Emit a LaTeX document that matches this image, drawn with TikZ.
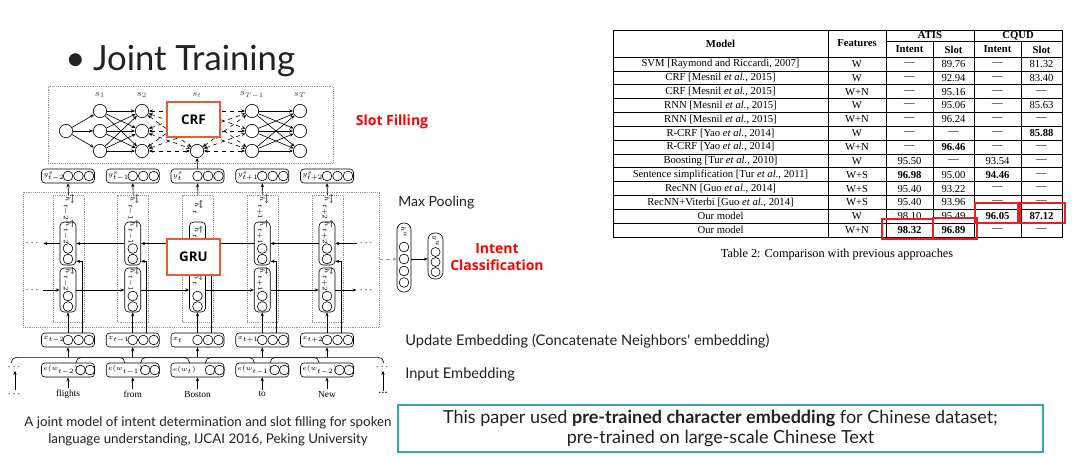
\documentclass[tikz,border=0pt]{standalone}
\usepackage{amsmath}
\usepackage{fontspec}
\setmainfont{Liberation Serif}
\newfontfamily\slidefont{Lato}
\newfontfamily\labelfont{Open Sans}
\usetikzlibrary{arrows.meta, positioning, calc}
\DeclareMathSizes{4.5}{4.5}{3.3}{2.8}
\DeclareMathSizes{7.5}{7.5}{5.5}{4.5}
\definecolor{tDark}{RGB}{34, 34, 34}
\definecolor{bModule}{RGB}{228, 92, 58}
\definecolor{tRed}{RGB}{255, 0, 0}
\definecolor{bHigh}{RGB}{235, 30, 35}
\definecolor{bNote}{RGB}{47, 170, 173}
\definecolor{lGrid}{RGB}{150, 150, 150}
\newcommand{\nd}{\textemdash}

\begin{document}
\begin{tikzpicture}[
    x=0.75pt, y=-0.75pt,
    >={Stealth[length=3pt, width=2.4pt]},
    line width=0.45pt,
    neuron/.style={circle, draw, inner sep=0pt, minimum size=10pt, fill=white},
    unit/.style={circle, draw, inner sep=0pt, minimum size=7.3pt},
    vec/.style={draw, rounded corners=2.5pt, minimum width=39.75pt, minimum height=10.5pt, inner sep=0pt},
    cell/.style={draw, rounded corners=3pt, minimum width=12pt, inner sep=0pt},
    dashbox/.style={draw=lGrid, densely dotted, line width=0.4pt, inner sep=0pt},
    module/.style={draw=bModule, line width=1.2pt, fill=white, minimum width=39.75pt,
        font=\labelfont\bfseries\fontsize{10}{12}\selectfont},
    lbl/.style={font=\fontsize{4.5}{5}\selectfont, inner sep=0pt},
    redlbl/.style={text=tRed, align=center, font=\labelfont\bfseries\fontsize{10.5}{12.75}\selectfont},
    slidetxt/.style={anchor=west, inner sep=0pt, text=tDark, font=\slidefont\fontsize{11}{13}\selectfont},
    tline/.style={line width=0.5pt},
    tcell/.style={inner sep=0pt, font=\fontsize{8}{9}\selectfont},
    thead/.style={tcell, font=\fontsize{8}{9}\selectfont\bfseries},
    hl/.style={draw=bHigh, line width=1pt}
]
\useasboundingbox[fill=white] (0,0) rectangle (1080,455);

\node[anchor=base west, inner sep=0pt, text=tDark, font=\slidefont\fontsize{26}{30}\selectfont] (title) at (65,70) {\textbullet\hspace{0.22em}Joint Training};

% CRF layer
\node[dashbox, minimum width=213.75pt, minimum height=57.75pt] (crfframe) at (190.5,124.5) {};
\node[neuron] (c0) at (66,131) {};
\foreach \l/\x/\s in {1/100/s_1, 2/142/s_2, 3/197/s_t, 4/252/s_{T-1}, 5/300/s_T}{
    \foreach \j/\y in {1/111, 2/131, 3/151}
        \node[neuron] (c\l\j) at (\x,\y) {};
    \node[lbl, text=tDark!85, font=\fontsize{7.5}{8}\selectfont] (sl\l) at (\x,95) {$\s$};
}
\foreach \j in {1,2,3}
    \draw[->] (c0) -- (c1\j);
\foreach \i in {1,2,3}
    \foreach \j in {1,2,3}{
        \draw[->] (c1\i) -- (c2\j);
        \draw[<->, dashed] (c2\i) -- (c3\j);
        \draw[<->, dashed] (c3\i) -- (c4\j);
        \draw[->] (c4\i) -- (c5\j);
    }
\node[module, minimum height=26.25pt] (crf) at (193.5,119.5) {CRF};
\node[redlbl] (slot) at (392,122) {Slot Filling};

% BiGRU layer
\node[dashbox, minimum width=267pt, minimum height=101.25pt] (bigru) at (201,259.5) {};
\foreach \k/\s in {1/t-2, 2/t-1, 3/t, 4/t+1, 5/t+2}{
    \pgfmathsetmacro\cx{68+64.75*(\k-1)}
    \node[dashbox, minimum width=23.25pt, minimum height=95.25pt] (col\k) at (\cx+0.5,258.5) {};
    \node[lbl, rotate=-90] (hc\k) at (\cx,207) {$\overleftrightarrow{h}_{\s}$};
    \node[cell, minimum height=32.25pt] (bw\k) at (\cx,243.5) {};
    \node[lbl, rotate=-90] (bwl\k) at (\cx,232) {$\overleftarrow{h}_{\s}$};
    \node[unit] (bw\k a) at (\cx,248.5) {};
    \node[unit] (bw\k b) at (\cx,259) {};
    \node[cell, minimum height=33pt] (fw\k) at (\cx,290) {};
    \node[lbl, rotate=-90] (fwl\k) at (\cx,279) {$\overrightarrow{h}_{\s}$};
    \node[unit] (fw\k a) at (\cx,296) {};
    \node[unit] (fw\k b) at (\cx,306.5) {};
    % output vectors
    \node[vec] (yb\k) at (\cx,176) {};
    \node[lbl, anchor=west] (ybl\k) at (\cx-25,176) {$y^s_{\s}$};
    \foreach \d in {1,2,3}
        \node[unit] (yb\k-\d) at (\cx-10.5+10.5*\d,176) {};
    % updated embeddings
    \node[vec] (xb\k) at (\cx,340) {};
    \node[lbl, anchor=west] (xbl\k) at (\cx-25,340) {$x_{\s}$};
    \foreach \d in {1,2,3}
        \node[unit] (xb\k-\d) at (\cx-10.5+10.5*\d,340) {};
    \coordinate (et\k) at (\cx,363);
}
\foreach \k/\s in {1/t-2, 2/t-1, 3/t, 4/t-1, 5/t-2}{
    \pgfmathsetmacro\cx{68+64.75*(\k-1)}
    \node[vec] (eb\k) at (\cx,370) {};
    \node[lbl, anchor=west] (ebl\k) at (\cx-25,370) {$e(w_{\s})$};
    \foreach \d in {1,2}
        \node[unit] (eb\k-\d) at (\cx+3+9.5*\d,370) {};
}
\foreach \k/\w in {1/flights, 2/from, 3/Boston, 4/to, 5/New}{
    \pgfmathsetmacro\cx{68+64.75*(\k-1)}
    \node[inner sep=1pt, font=\fontsize{7}{8}\selectfont] (w\k) at (\cx,394) {\w};
}

\foreach \k in {1,...,5}{
    \draw[->] (col\k.north) -- (yb\k.south);
    \draw[->] (xb\k.north) -- (fw\k.south);
    \draw[->] ($(xb\k.north)+(14,0)$) |- ($(bw\k.south east)+(0,-4)$);
    \draw[->] (w\k.north) -- (eb\k.south);
    \draw[->] ($(xb\k.south)+(0,10)$) -- (xb\k.south);
}
\foreach \k/\j in {1/2, 2/3, 3/4, 4/5}{
    \draw[->] (bw\j.west) -- (bw\k.east);
    \draw[->] (fw\k.east) -- (fw\j.west);
}
\node[module, minimum height=27pt] (gru) at (193.5,257) {GRU};
\draw[->] (yb3.north) -- (c33.south);

\node[inner sep=2pt, font=\fontsize{7}{8}\selectfont] (bwL) at (33,243.5) {$\cdots$};
\node[inner sep=2pt, font=\fontsize{7}{8}\selectfont] (fwL) at (33,290) {$\cdots$};
\node[inner sep=2pt, font=\fontsize{7}{8}\selectfont] (bwR) at (367,243.5) {$\cdots$};
\node[inner sep=2pt, font=\fontsize{7}{8}\selectfont] (fwR) at (367,290) {$\cdots$};
\draw[->] (bw1.west) -- (bwL.east);
\draw[->] (fwL.east) -- (fw1.west);
\draw[->] (bwR.west) -- (bw5.east);
\draw[->] (fw5.east) -- (fwR.west);

% neighbour concatenation
\coordinate (et0) at (3.25,363);
\coordinate (et6) at (391.75,363);
\foreach \k [evaluate=\k as \km using int(\k-1), evaluate=\k as \kp using int(\k+1)] in {1,...,5}
    \draw[rounded corners=4pt] ($(et\km)+(8,0)$) |- ($(xb\k.south)+(0,10)$) -| ($(et\kp)+(-8,0)$);
\node[inner sep=1pt, font=\fontsize{7}{8}\selectfont] (eL) at (15,367) {$\cdots$};
\node[inner sep=1pt, font=\fontsize{7}{8}\selectfont] (wL) at (15,394) {$\cdots$};
\node[inner sep=1pt, font=\fontsize{7}{8}\selectfont] (eR) at (383,367) {$\cdots$};
\node[inner sep=1pt, font=\fontsize{7}{8}\selectfont\bfseries] (wR) at (383,393) {\dots};
\draw[->] (wL.north) -- (eL.south);
\draw[->] (wR.north) -- (eR.south);

% intent branch
\node[slidetxt, font=\slidefont\fontsize{10.5}{12}\selectfont] (maxp) at (398,203) {Max Pooling};
\node[cell, minimum width=10.5pt, minimum height=51.75pt, rounded corners=5pt] (hu) at (404,257.5) {};
\node[lbl, rotate=-90] (hul) at (404,232) {$h^u$};
\foreach \j/\y in {1/247, 2/259, 3/271, 4/282.5}
    \node[unit] (hu\j) at (404,\y) {};
\node[cell, minimum width=11.25pt, minimum height=34.5pt, rounded corners=5pt] (yu) at (435.5,256) {};
\node[lbl, rotate=-90] (yul) at (435.5,241) {$y^u$};
\foreach \j/\y in {1/252, 2/262, 3/272}
    \node[unit, minimum size=6.8pt] (yu\j) at (435.5,\y) {};
\draw[->] (hu.east |- hu2) -- (yu.west |- hu2);
\draw[->, densely dashed, lGrid] (bigru.east |- hu2) -- (hu.west |- hu2);
\node[redlbl] (intent) at (497,257) {Intent\\Classification};

\node[slidetxt] (upd) at (405,341) {Update Embedding (Concatenate Neighbors' embedding)};
\node[slidetxt] (inp) at (405,374) {Input Embedding};

\node[align=center, text=tDark, font=\slidefont\fontsize{10}{12.75}\selectfont] (cap) at (208,431.5)
    {A joint model of intent determination and slot filling for spoken\\language understanding, IJCAI 2016, Peking University};

\node[draw=bNote, line width=1.2pt, minimum width=483.75pt, minimum height=35.25pt, align=center,
      text=tDark, font=\slidefont\fontsize{13.5}{15}\selectfont] (note) at (720.5,428.5)
    {This paper used \textbf{pre-trained character embedding} for Chinese dataset;\\pre-trained on large-scale Chinese Text};

% comparison table
\draw[tline] (613,30) rectangle (1062,237.05);
\draw[tline] (886,41) -- (1062,41);
\foreach \i in {0,...,12}
    \draw[tline] (613,{57+13.85*\i}) -- (1062,{57+13.85*\i});
\foreach \x in {828,886,974}
    \draw[tline] (\x,30) -- (\x,237.05);
\foreach \x in {933,1021}
    \draw[tline] (\x,41) -- (\x,237.05);
\node[thead] (hmodel) at (720.5,43.5) {Model};
\node[thead] (hfeat) at (857,43.5) {Features};
\node[thead] (hatis) at (930,35.5) {ATIS};
\node[thead] (hcqud) at (1018,35.5) {CQUD};
\foreach \x/\t [count=\n] in {909.5/Intent, 953.5/Slot, 997.5/Intent, 1041.5/Slot}
    \node[thead] (hsub\n) at (\x,49.5) {\t};
\foreach \i/\m/\f/\atisI/\atisS/\cqI/\cqS in {
    1/{SVM [Raymond and Riccardi, 2007]}/W/\nd/89.76/\nd/81.32,
    2/{CRF [Mesnil \emph{et al.}, 2015]}/W/\nd/92.94/\nd/83.40,
    3/{CRF [Mesnil \emph{et al.}, 2015]}/W+N/\nd/95.16/\nd/\nd,
    4/{RNN [Mesnil \emph{et al.}, 2015]}/W/\nd/95.06/\nd/85.63,
    5/{RNN [Mesnil \emph{et al.}, 2015]}/W+N/\nd/96.24/\nd/\nd,
    6/{R-CRF [Yao \emph{et al.}, 2014]}/W/\nd/\nd/\nd/\textbf{85.88},
    7/{R-CRF [Yao \emph{et al.}, 2014]}/W+N/\nd/\textbf{96.46}/\nd/\nd,
    8/{Boosting [Tur \emph{et al.}, 2010]}/W/95.50/\nd/93.54/\nd,
    9/{Sentence simplification [Tur \emph{et al.}, 2011]}/W+S/\textbf{96.98}/95.00/\textbf{94.46}/\nd,
    10/{RecNN [Guo \emph{et al.}, 2014]}/W+S/95.40/93.22/\nd/\nd,
    11/{RecNN+Viterbi [Guo \emph{et al.}, 2014]}/W+S/95.40/93.96/\nd/\nd,
    12/{Our model}/W/98.10/95.49/\textbf{96.05}/\textbf{87.12},
    13/{Our model}/W+N/\textbf{98.32}/\textbf{96.89}/\nd/\nd}{
    \pgfmathsetmacro\ry{57+13.85*(\i-0.5)}
    \node[tcell] (mod\i) at (720.5,\ry) {\m};
    \node[tcell] (fea\i) at (857,\ry) {\f};
    \node[tcell] (ai\i) at (909.5,\ry) {\atisI};
    \node[tcell] (as\i) at (953.5,\ry) {\atisS};
    \node[tcell] (ci\i) at (997.5,\ry) {\cqI};
    \node[tcell] (cs\i) at (1041.5,\ry) {\cqS};
}
\draw[hl] (882,219) rectangle (933,239);
\draw[hl] (933,218) rectangle (977,239);
\draw[hl] (975,203) rectangle (1018,223);
\draw[hl] (1020,203) rectangle (1065,223);
\node[font=\fontsize{9.2}{11}\selectfont] (tcap) at (837,255) {Table 2: Comparison with previous approaches};

\end{tikzpicture}
\end{document}
